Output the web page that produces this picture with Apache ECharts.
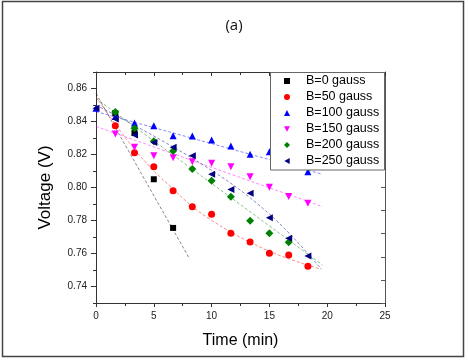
<!DOCTYPE html>
<html>
<head>
<meta charset="utf-8">
<script src="https://cdn.jsdelivr.net/npm/echarts@6/dist/echarts.min.js"></script>
<style>html,body{margin:0;padding:0;background:#fff}#c{width:468px;height:360px}</style>
</head>
<body>
<div id="c"></div>
<script>
// ---- data ----
var seriesNames = ['B=0 gauss','B=50 gauss','B=100 gauss','B=150 gauss','B=200 gauss','B=250 gauss'];
var b0   = [[1.67,0.845],[3.33,0.833],[5,0.805],[6.67,0.7755]];
var b50  = [[1.67,0.8375],[3.33,0.821],[5,0.8126],[6.67,0.798],[8.33,0.7884],[10,0.7838],[11.67,0.7722],[13.33,0.767],[15,0.7601],[16.67,0.7591],[18.33,0.7522]];
var b100 = [[0,0.848],[1.67,0.843],[3.33,0.8391],[5,0.8375],[6.67,0.8314],[8.33,0.8312],[10,0.8288],[11.67,0.8252],[13.33,0.8201],[15,0.8217],[16.67,0.815],[18.33,0.8096]];
var b150 = [[1.67,0.8324],[3.33,0.8244],[5,0.8193],[6.67,0.8181],[8.33,0.8156],[10,0.8147],[11.67,0.8126],[13.33,0.8065],[15,0.8001],[16.67,0.7946],[18.33,0.7904]];
var b200 = [[1.67,0.8458],[3.33,0.8359],[5,0.828],[6.67,0.8221],[8.33,0.8112],[10,0.8041],[11.67,0.7944],[13.33,0.7799],[15,0.7722],[16.67,0.7668]];
var b250 = [[0,0.848],[1.67,0.8415],[3.33,0.8318],[5,0.8273],[6.67,0.8244],[8.33,0.8193],[10,0.808],[11.67,0.7988],[13.33,0.7965],[15,0.7817],[16.67,0.7692],[18.33,0.7585]];
// fitted curves
var fit0   = [[0,0.857],[8.1,0.7567]];
var fit50  = [[0,0.855],[3.35,0.823],[6.67,0.799],[9.7,0.7815],[14.76,0.7621],[19.45,0.7505]];
var fit100 = [[0,0.846],[19.6,0.808]];
var fit150 = [[0,0.837],[19.6,0.7884]];
var fit200 = [[0,0.854],[19.6,0.753]];
var fit250 = [[0,0.85],[9,0.8148],[14.9,0.7845],[19.5,0.7505]];
// ticks
var yMajorTicks = [0.74,0.76,0.78,0.80,0.82,0.84,0.86];
var yMinorTicks = [0.73,0.75,0.77,0.79,0.81,0.83,0.85,0.87];

var colors = ['#000000','#ff0000','#0000ff','#ff00ff','#008000','#000080'];
var triDown = 'path://M0,0L10,0L5,9Z';
var triLeft = 'path://M9,0L9,10L0,5Z';
var symbols = ['rect','circle','triangle',triDown,'diamond',triLeft];
var sizes = [6,7,7,7,8,7];
var pts = [b0,b50,b100,b150,b200,b250];
var fits = [fit0,fit50,fit100,fit150,fit200,fit250];

var font = 'Liberation Sans, Arial, sans-serif';
var series = [];
for (var i=0;i<6;i++){
  series.push({
    type:'line', data:fits[i], showSymbol:false, symbol:'none', smooth: fits[i].length>2 ? 0.4 : false,
    lineStyle:{color:colors[i], width:0.6, type:[3,2], opacity:0.8}, silent:true, z:1
  });
}
for (var j=0;j<6;j++){
  series.push({
    name:seriesNames[j], type:'scatter', data:pts[j], symbol:symbols[j],
    symbolSize:sizes[j], itemStyle:{color:colors[j], opacity:1}, z:2
  });
}

var chart = echarts.init(document.getElementById('c'), null, {renderer:'canvas'});
chart.setOption({
  animation:false,
  backgroundColor:'#fff',
  title:{text:'(a)', left:'center', top:13, textStyle:{fontFamily:'Open Sans, Noto Sans, sans-serif', fontSize:15, fontWeight:'normal', color:'#111'}},
  grid:{left:96, top:72, width:289, height:231},
  legend:{
    data:seriesNames,
    orient:'vertical', left:284, top:73, padding:0, itemGap:0, itemWidth:6, itemHeight:6,
    textStyle:{fontFamily:font, fontSize:12.5, color:'#000', lineHeight:16, padding:[0,0,0,11]}, z:6,
    selectedMode:false
  },
  graphic:[
    {type:'rect', shape:{x:270.5, y:72.5, width:114, height:97.5}, style:{fill:'#fff', stroke:'#666', lineWidth:1}, z:5},
    {type:'rect', shape:{x:2.5, y:1.5, width:461, height:355}, style:{fill:'none', stroke:'#444', lineWidth:1.5}, z:10}
  ],
  xAxis:[
    {type:'value', min:0, max:25, interval:5, position:'bottom',
     name:'Time (min)', nameLocation:'middle', nameGap:30, nameTextStyle:{fontFamily:font, fontSize:16, color:'#000'},
     axisLine:{lineStyle:{color:'#333', width:1}}, axisTick:{length:4, lineStyle:{color:'#333'}},
     minorTick:{show:true, splitNumber:2, length:3, lineStyle:{color:'#333'}},
     axisLabel:{fontFamily:font, fontSize:10, color:'#222', margin:8}, splitLine:{show:false}},
    {type:'value', min:0, max:25, interval:5, position:'top',
     axisLine:{lineStyle:{color:'#333', width:1}}, axisTick:{inside:true, length:4, lineStyle:{color:'#333'}},
     minorTick:{show:true, splitNumber:2, length:3, lineStyle:{color:'#333'}},
     axisLabel:{show:false}, splitLine:{show:false}}
  ],
  yAxis:[
    {type:'value', min:0.73, max:0.87, interval:0.01, position:'left',
     name:'Voltage (V)', nameLocation:'middle', nameGap:42, nameTextStyle:{fontFamily:font, fontSize:17, color:'#000'},
     axisLine:{show:true, lineStyle:{color:'#333', width:1}},
     axisTick:{show:true, length:5, customValues:yMajorTicks, lineStyle:{color:'#333'}},
     axisLabel:{fontFamily:font, fontSize:10, color:'#222', margin:9, customValues:yMajorTicks,
       formatter:function(v){return v.toFixed(2);}},
     splitLine:{show:false}},
    {type:'value', min:0.73, max:0.87, interval:0.01, position:'left',
     axisLine:{show:false}, axisTick:{show:true, length:3, customValues:yMinorTicks, lineStyle:{color:'#333'}},
     axisLabel:{show:false}, splitLine:{show:false}},
    {type:'value', min:0, max:10, interval:1, position:'right',
     axisLine:{show:true, lineStyle:{color:'#555', width:1}}, axisTick:{inside:true, length:4, lineStyle:{color:'#555'}},
     axisLabel:{show:false}, splitLine:{show:false}}
  ],
  series:series
});
</script>
</body>
</html>
